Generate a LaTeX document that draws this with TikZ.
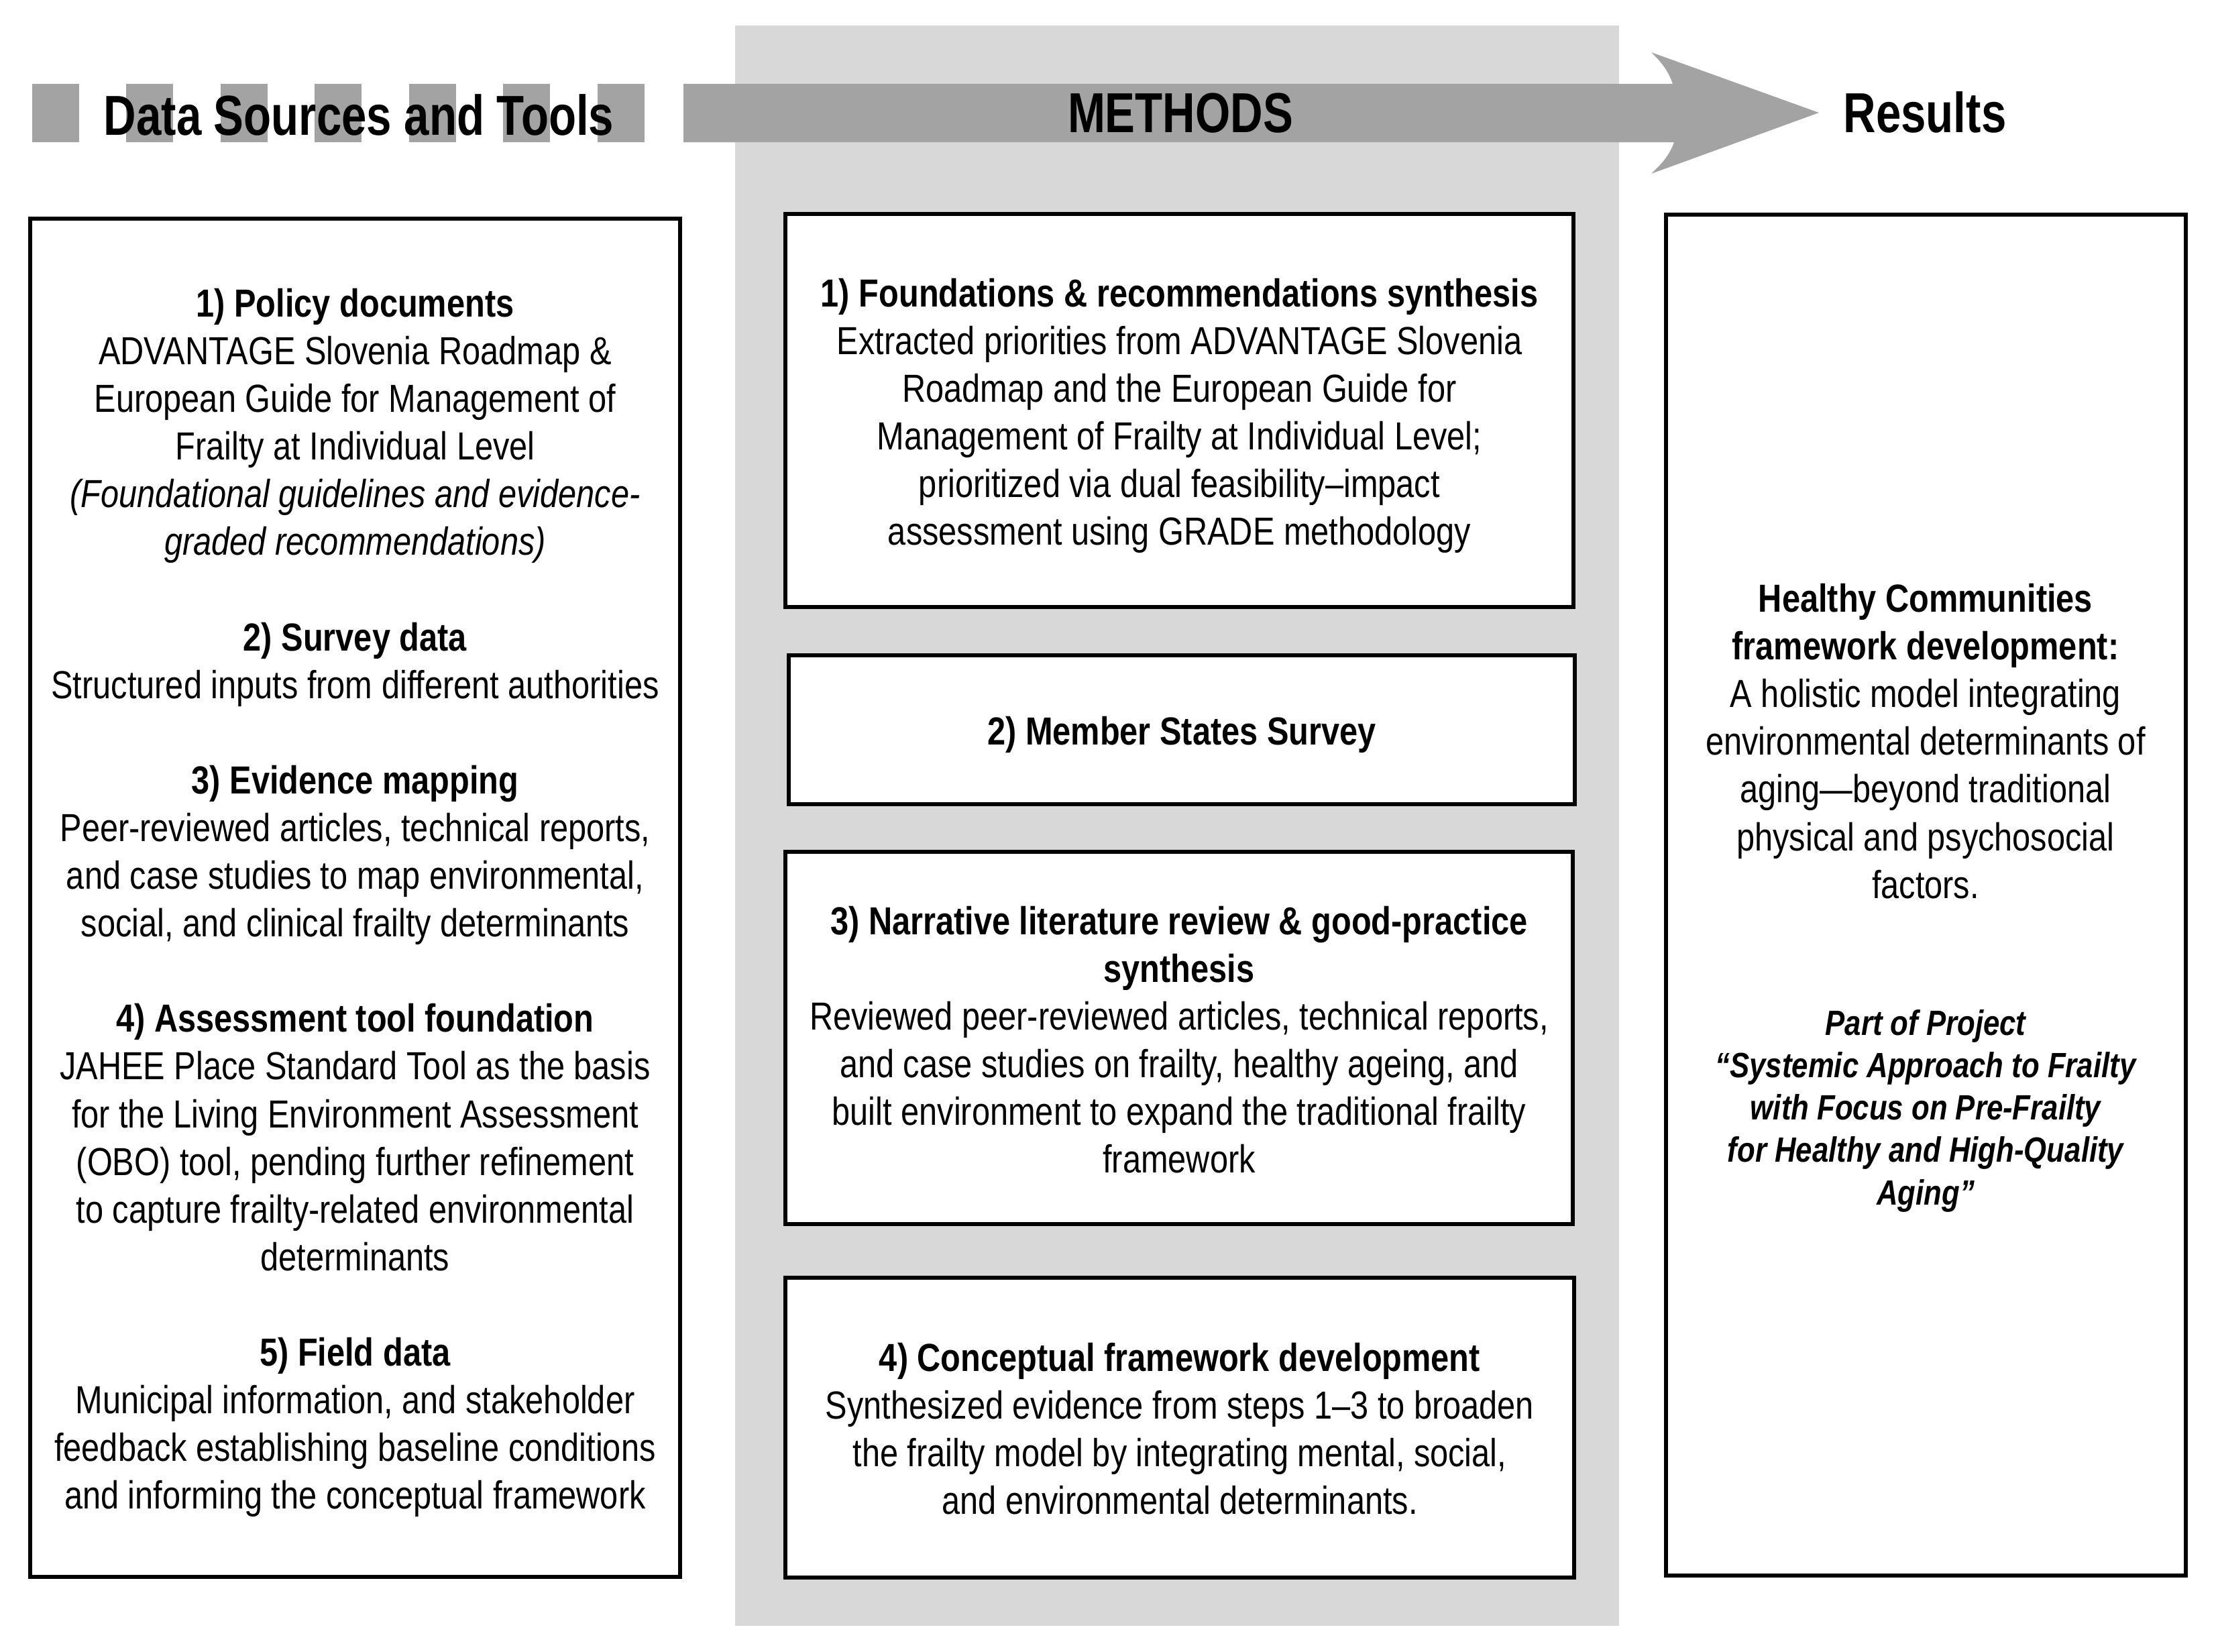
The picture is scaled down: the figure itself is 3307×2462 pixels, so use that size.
\documentclass[tikz,border=0pt]{standalone}
\usepackage{fontspec}
\setmainfont{Liberation Sans}[FakeStretch=0.835]
\newfontfamily\hdrfont{Liberation Sans}[FakeStretch=0.8]
\definecolor{bargray}{RGB}{163,163,163}
\definecolor{panelgray}{RGB}{216,216,216}
\newcommand\bodyfont{\fontsize{16.6pt}{20.23pt}\selectfont}
\newcommand\smallitfont{\fontsize{14.9pt}{18.0pt}\selectfont\bfseries\itshape}
\begin{document}
\begin{tikzpicture}[x=0.1mm,y=-0.1mm,
  box/.style={draw=black, line width=0.6mm, fill=white, inner sep=0pt},
  hdr/.style={font=\hdrfont\bfseries\fontsize{23.9pt}{28pt}\selectfont, anchor=base, inner sep=0pt},
  txt/.style={align=center, inner sep=0pt, font=\bodyfont}]
\useasboundingbox (0,0) rectangle (3307,2462);
\fill[white] (0,0) rectangle (3307,2462);
% methods panel
\node[fill=panelgray, minimum width=131.8mm, minimum height=238.6mm, inner sep=0pt] (panel) at (1755,1231) {};
% header squares
\foreach \k in {0,...,6}
  \fill[bargray] ({47.7+140.5*\k},125) rectangle +(70.2,87);
% methods arrow
\fill[bargray] (1019,125) -- (2494,125) .. controls (2486,102) and (2474,90) .. (2462,78)
  -- (2712,168) -- (2462,259) .. controls (2474,247) and (2488,235) .. (2496,212) -- (1019,212) -- cycle;
% headers
\node[hdr] (hds) at (535,201) {Data Sources and Tools};
\node[hdr] (hdm) at (1760,197) {METHODS};
\node[hdr] (hdres) at (2870,197) {Results};
% boxes
\node[box, minimum width=96.9mm, minimum height=202.5mm] (left) at (529.5,1338.5) {};
\node[box, minimum width=117.5mm, minimum height=58.6mm] (m1) at (1758.5,612) {};
\node[box, minimum width=117.2mm, minimum height=22.2mm] (m2) at (1762,1088) {};
\node[box, minimum width=117.4mm, minimum height=55.5mm] (m3) at (1758,1547.5) {};
\node[box, minimum width=117.6mm, minimum height=44.7mm] (m4) at (1759,2128.5) {};
\node[box, minimum width=77.5mm, minimum height=202.9mm] (res) at (2871.5,1334.5) {};
% left text
\node[txt] (lefttxt) at (529.5,1346) {%
\textbf{1) Policy documents}\\
ADVANTAGE Slovenia Roadmap \&\\
European Guide for Management of\\
Frailty at Individual Level\\
\textit{(Foundational guidelines and evidence-}\\
\textit{graded recommendations)}\\[20.23pt]
\textbf{2) Survey data}\\
Structured inputs from different authorities\\[20.23pt]
\textbf{3) Evidence mapping}\\
Peer-reviewed articles, technical reports,\\
and case studies to map environmental,\\
social, and clinical frailty determinants\\[20.23pt]
\textbf{4) Assessment tool foundation}\\
JAHEE Place Standard Tool as the basis\\
for the Living Environment Assessment\\
(OBO) tool, pending further refinement\\
to capture frailty-related environmental\\
determinants\\[20.23pt]
\textbf{5) Field data}\\
Municipal information, and stakeholder\\
feedback establishing baseline conditions\\
and informing the conceptual framework};
% methods texts
\node[txt] (m1txt) at (1758.5,620) {%
\textbf{1) Foundations \& recommendations synthesis}\\
Extracted priorities from ADVANTAGE Slovenia\\
Roadmap and the European Guide for\\
Management of Frailty at Individual Level;\\
prioritized via dual feasibility–impact\\
assessment using GRADE methodology};
\node[txt] (m2txt) at (1762,1095) {\textbf{2) Member States Survey}};
\node[txt] (m3txt) at (1758,1550) {%
\textbf{3) Narrative literature review \& good-practice}\\
\textbf{synthesis}\\
Reviewed peer-reviewed articles, technical reports,\\
and case studies on frailty, healthy ageing, and\\
built environment to expand the traditional frailty\\
framework};
\node[txt] (m4txt) at (1759,2130) {%
\textbf{4) Conceptual framework development}\\
Synthesized evidence from steps 1–3 to broaden\\
the frailty model by integrating mental, social,\\
and environmental determinants.};
% results texts
\node[txt] (restxt) at (2871,1105) {%
\textbf{Healthy Communities}\\
\textbf{framework development:}\\
A holistic model integrating\\
environmental determinants of\\
aging—beyond traditional\\
physical and psychosocial\\
factors.};
\node[txt, font=\smallitfont] (resproj) at (2871,1656) {%
Part of Project\\
“Systemic Approach to Frailty\\
with Focus on Pre-Frailty\\
for Healthy and High-Quality\\
Aging”};
\end{tikzpicture}
\end{document}
